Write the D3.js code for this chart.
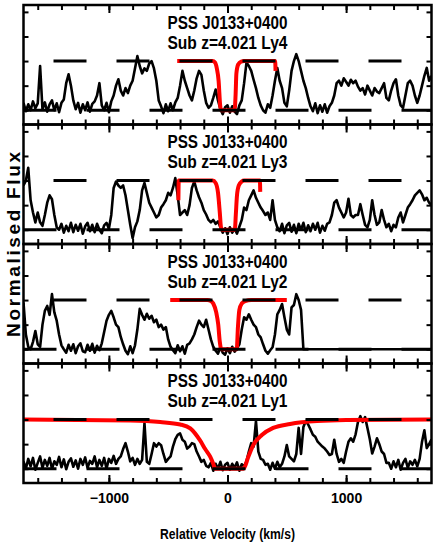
<!DOCTYPE html>
<html>
<head>
<meta charset="utf-8">
<script src="https://cdn.jsdelivr.net/npm/d3@7"></script>
<style>
body { margin: 0; background: #fff; }
text { font-family: "Liberation Sans", Arial, sans-serif; font-weight: bold; }
</style>
</head>
<body>
<svg width="436" height="545"></svg>
<script>
// panel labels, top to bottom
const panelLabels = ["Ly4", "Ly3", "Ly2", "Ly1"];
const objectName = "PSS J0133+0400";
const subLabel = "Sub z=4.021";
const xTickLabels = [-1000, 0, 1000];
const yTicks = [0, 0.5, 1, 1.5, 2];

// spectra sampled every 20 km/s from -1720 km/s
const velStart = -1720, velStep = 20;

const ly4Flux = [
  0.15, -0.02, 0.12, 0.0, 0.18, 0.04, 0.14, 0.9, 0.02, 0.16,
  -0.03, 0.12, 0.2, 0.0, 0.14, -0.04, 0.15, 0.22, 0.55, 0.73,
  0.5, 0.2, 0.02, 0.15, -0.05, 0.12, 0.0, 0.16, -0.03, 0.13,
  0.18, 0.3, 0.55, 0.1, 0.0, 0.15, -0.04, 0.18, 0.3, 0.5,
  0.63, 0.4, 0.3, 0.45, 0.35, 0.5, 0.6, 0.85, 1.1, 0.9,
  0.75, 0.85, 0.8, 0.95, 1.0, 0.85, 0.6, 0.2, 0.08, -0.06,
  0.12, -0.02, 0.14, 0.0, 0.16, 0.25, 0.5, 0.8, 0.6, 0.45,
  0.3, 0.2, 0.4, 0.65, 0.8, 0.72, 0.4, 0.15, 0.05, 0.1,
  0.25, 0.42, 0.2, 0.02, -0.08, 0.06, 0.1, -0.05, 0.08, -0.03,
  -0.08, 0.1, 0.2, 0.55, 0.97, 0.9, 0.8, 0.62, 0.45, 0.25,
  0.1, 0.0, -0.05, 0.12, 0.05, 0.3, 0.6, 0.86, 0.6, 0.45,
  0.15, 0.08, 0.4, 0.8, 1.0, 1.14, 1.0, 0.8, 0.6, 0.45,
  0.25, 0.08, -0.02, 0.14, -0.06, 0.1, -0.03, 0.12, -0.05, 0.08,
  0.15, 0.3, 0.55, 0.6, 0.5, 0.65, 0.58, 0.5, 0.62, 0.55,
  0.6, 0.48, 0.4, 0.45, 0.32, 0.5, 0.4, 0.3, 0.45, 0.38,
  0.35, 0.45, 0.55, 0.25, 0.2, 0.4, 0.55, 0.63, 0.3, 0.1,
  0.05, 0.3, 0.55, 0.6, 0.5, 0.3, 0.15, 0.3, 0.5, 0.7,
  0.86, 0.6, 0.7
];

const ly3Flux = [
  0.9, 1.0, 1.26, 0.6, 0.35, 0.15, 0.35, 0.15, 0.08, 0.3,
  0.55, 0.7, 0.62, 0.3, 0.05, 0.0, 0.12, -0.06, 0.08, -0.03,
  0.14, -0.05, 0.1, -0.02, 0.12, -0.08, 0.07, 0.14, -0.03, 0.1,
  -0.05, 0.12, 0.0, -0.07, 0.09, 0.14, 0.02, 0.3, 0.85, 0.98,
  0.9, 0.85, 0.9, 0.7, 0.4, 0.1, -0.17, 0.05, 0.17, 0.4,
  0.8, 0.95, 0.75, 0.55, 0.45, 0.35, 0.25, 0.3, 0.45, 0.52,
  0.6, 0.75, 0.7, 0.85, 1.05, 0.7, 0.3, 0.35, 0.4, 0.3,
  0.5, 0.85, 0.98, 0.8, 0.66, 0.55, 0.4, 0.31, 0.2, 0.15,
  0.2, 0.12, 0.17, 0.05, -0.06, 0.03, -0.09, 0.05, -0.06, 0.02,
  -0.08, 0.06, 0.2, 0.45, 0.4, 0.6, 0.7, 0.8, 0.65, 0.55,
  0.45, 0.38, 0.3, 0.35, 0.2, 0.6, 0.2, 0.05, -0.03, 0.12,
  -0.07, 0.09, 0.14, -0.04, 0.1, -0.07, 0.12, 0.0, 0.14, -0.05,
  0.09, -0.03, 0.12, 0.0, 0.14, -0.06, 0.08, -0.02, 0.12, 0.15,
  0.3, 0.55, 0.6, 0.45, 0.35, 0.25, 0.35, 0.63, 0.3, 0.25,
  0.3, 0.3, 0.52, 0.3, 0.1, 0.05, 0.2, 0.6, 0.3, 0.1,
  0.15, 0.4, 0.2, 0.05, 0.12, -0.03, 0.1, 0.05, 0.25, 0.35,
  0.15, 0.3, 0.45, 0.52, 0.6, 0.7, 0.75, 0.8, 0.72, 0.6,
  0.65, 0.55, 0.5
];

const ly2Flux = [
  0.95, 0.3, 0.05, 0.0, 0.15, 0.37, 0.1, 0.05, 0.5, 0.78,
  0.88, 0.7, 1.12, 0.75, 0.58, 0.3, 0.08, 0.0, -0.07, 0.09,
  -0.03, 0.1, -0.08, 0.06, 0.12, -0.04, -0.06, 0.09, -0.03, 0.11,
  -0.07, 0.07, -0.02, 0.12, 0.35, 0.58, 0.7, 0.78, 0.65, 0.5,
  0.45, 0.25, 0.1, -0.03, -0.1, 0.06, -0.08, 0.08, 0.4, 0.82,
  0.7, 0.6, 0.72, 0.62, 0.68, 0.55, 0.6, 0.45, 0.5, 0.4,
  0.45, 0.2, 0.05, -0.02, -0.08, 0.08, -0.04, 0.06, -0.09, 0.09,
  0.12, 0.2, 0.3, 0.45, 0.58, 0.5, 0.45, 0.6, 0.4, 0.2,
  0.05, -0.03, -0.09, 0.04, -0.07, -0.11, 0.02, -0.08, 0.05, -0.05,
  0.02, 0.1, 0.4, 0.65, 0.6, 0.71, 0.6, 0.5, 0.45, 0.3,
  0.24, 0.1, -0.03, -0.09, -0.02, 0.04, 0.3, 0.71, 0.8, 0.92,
  0.65, 0.4, 0.3, 0.85, 0.9, 1.12, 1.0, 0.8, 0.0, 0,
  0, 0, 0, 0, 0, 0, 0, 0, 0, 0,
  0, 0, 0, 0, 0, 0, 0, 0, 0, 0,
  0, 0, 0, 0, 0, 0, 0, 0, 0, 0,
  0, 0, 0, 0, 0, 0, 0, 0, 0, 0,
  0, 0, 0, 0, 0, 0, 0, 0, 0, 0,
  0, 0, 0
];

const ly1Flux = [
  0.15, 0.0, 0.2, 0.05, 0.22, -0.02, 0.12, 0.25, 0.02, 0.18,
  0.06, 0.22, 0.0, 0.15, 0.08, 0.24, 0.03, 0.19, -0.01, 0.14,
  0.21, 0.04, 0.17, 0.0, 0.2, 0.08, 0.23, 0.02, 0.16, 0.1,
  0.25, 0.03, 0.18, 0.06, 0.22, 0.0, 0.2, 0.12, 0.26, 0.1,
  0.2, 0.25, 0.4, 0.52, 0.35, 0.15, 0.22, 0.08, 0.2, 0.1,
  0.18, 0.93, 0.14, 0.1, 0.3, 0.52, 0.45, 0.52, 0.48, 0.3,
  0.14, 0.2, 0.25, 0.45, 0.6, 0.69, 0.72, 0.59, 0.55, 0.41,
  0.45, 0.52, 0.5, 0.35, 0.25, 0.14, 0.18, 0.06, 0.03, 0.12,
  -0.04, 0.1, 0.0, 0.14, -0.03, 0.08, 0.12, -0.02, 0.1, 0.02,
  0.13, -0.04, 0.09, 0.05, 0.15, 0.35, 0.52, 0.45, 0.97, 0.35,
  0.2, 0.18, 0.08, 0.1, -0.02, 0.12, 0.0, 0.14, 0.03, 0.1,
  0.25, 0.48, 0.25, 0.2, 0.15, 0.3, 0.83, 0.3, 0.85, 0.97,
  0.9, 0.8, 0.69, 0.65, 0.55, 0.5, 0.45, 0.41, 0.35, 0.28,
  0.3, 0.59, 0.3, 0.14, 0.2, 0.12, 0.35, 0.55, 0.62, 0.55,
  0.7, 0.95, 1.07, 0.95, 1.05, 0.83, 0.6, 0.31, 0.45, 0.62,
  0.5, 0.35, 0.3, 0.12, 0.12, 0.0, 0.15, 0.03, 0.18, -0.02,
  0.12, 0.2, 0.02, 0.15, 0.08, 0.18, 0.05, 0.2, 0.55, 0.78,
  0.42, 0.5, 0.6
];

// fitted profiles: [velocity, flux]
const ly4Model = [[-424, 1], [-125, 1], [-105, 0.97], [-90, 0.85], [-75, 0.6], [-62, 0.1], [-55, 0],
  [60, 0], [68, 0.3], [75, 0.75], [90, 0.93], [115, 0.99], [140, 1], [402, 1], [405, 0.8]];
const ly3Model = [[-414, 0.6], [-411, 1], [-125, 1], [-100, 0.95], [-80, 0.75], [-65, 0.35], [-55, 0.05], [-48, 0],
  [62, 0], [70, 0.3], [80, 0.7], [95, 0.9], [120, 0.98], [140, 1], [273, 1], [276, 0.77]];
const ly2Model = [[-483, 1], [-170, 1], [-140, 0.98], [-120, 0.93], [-95, 0.75], [-78, 0.5], [-65, 0.15], [-52, 0],
  [78, 0], [88, 0.45], [100, 0.8], [120, 0.93], [150, 0.98], [200, 1], [500, 1]];
const ly1Model = [[-1720, 1], [-820, 0.98], [-567, 0.95], [-398, 0.9], [-314, 0.82], [-230, 0.57], [-188, 0.4],
  [-145, 0.24], [-120, 0.1], [-104, 0], [135, 0], [175, 0.24], [217, 0.48], [292, 0.69], [385, 0.83],
  [528, 0.91], [755, 0.97], [1000, 0.99], [1720, 1]];

const fluxes = [ly4Flux, ly3Flux, ly2Flux, ly1Flux];
const models = [ly4Model, ly3Model, ly2Model, ly1Model];

const svg = d3.select("svg");
const plotLeft = 23.5, plotRight = 431.5, plotTop = 5, panelH = 119.5;

const x = d3.scaleLinear().domain([-1720, 1720]).range([plotLeft, plotRight]);
const y = d3.scaleLinear().domain([-0.29, 2.14]).range([panelH, 0]);
const minorTicks = d3.range(-1600, 1601, 200);

const specLine = d3.line()
  .x((d, i) => x(velStart + i * velStep))
  .y(d => y(d));
const modelLine = d3.line()
  .x(d => x(d[0]))
  .y(d => y(d[1]))
  .curve(d3.curveMonotoneX);

svg.append("defs").append("clipPath").attr("id", "clip")
  .append("rect").attr("x", plotLeft).attr("y", 0).attr("width", plotRight - plotLeft).attr("height", panelH);

fluxes.forEach((flux, k) => {
  const g = svg.append("g").attr("transform", `translate(0,${plotTop + k * panelH})`);
  const plot = g.append("g").attr("clip-path", "url(#clip)");

  plot.append("path")
    .attr("d", specLine(flux))
    .attr("fill", "none").attr("stroke", "#000")
    .attr("stroke-width", 2.6).attr("stroke-linejoin", "round");

  plot.append("path")
    .attr("d", modelLine(models[k]))
    .attr("fill", "none").attr("stroke", "#ff0000")
    .attr("stroke-width", 4);

  // continuum and zero level
  plot.append("line")
    .attr("x1", plotLeft).attr("x2", plotRight).attr("y1", y(1)).attr("y2", y(1))
    .attr("stroke", "#000").attr("stroke-width", 3)
    .attr("stroke-dasharray", "33,30").attr("stroke-dashoffset", 33);
  plot.append("line")
    .attr("x1", plotLeft).attr("x2", plotRight).attr("y1", y(0)).attr("y2", y(0))
    .attr("stroke", "#000").attr("stroke-width", 3)
    .attr("stroke-dasharray", "33,30");

  // ticks pointing inward
  const noDomain = a => a.select(".domain").remove();
  g.append("g").call(d3.axisTop(x).tickValues(minorTicks).tickSize(-5).tickFormat("")).call(noDomain);
  g.append("g").call(d3.axisTop(x).tickValues(xTickLabels).tickSize(-8).tickFormat("")).call(noDomain);
  g.append("g").attr("transform", `translate(0,${panelH})`)
    .call(d3.axisBottom(x).tickValues(minorTicks).tickSize(-5).tickFormat("")).call(noDomain);
  const bottom = g.append("g").attr("transform", `translate(0,${panelH})`)
    .call(d3.axisBottom(x).tickValues(xTickLabels).tickSize(-8).tickPadding(10.5)
      .tickFormat(k === 3 ? d3.format("d") : ""))
    .call(noDomain);
  bottom.selectAll("text").attr("font-size", 14).attr("fill", "#000");
  g.append("g").attr("transform", `translate(${plotLeft},0)`)
    .call(d3.axisLeft(y).tickValues(yTicks).tickSize(-5).tickFormat("")).call(noDomain);
  g.append("g").attr("transform", `translate(${plotRight},0)`)
    .call(d3.axisRight(y).tickValues(yTicks).tickSize(-5).tickFormat("")).call(noDomain);
  g.selectAll(".tick line").attr("stroke-width", 2);

  g.append("rect")
    .attr("x", plotLeft).attr("y", 0).attr("width", plotRight - plotLeft).attr("height", panelH)
    .attr("fill", "none").attr("stroke", "#000").attr("stroke-width", 2.5);

  g.append("text")
    .attr("x", 227.5).attr("y", 23.5)
    .attr("text-anchor", "middle").attr("font-size", 18)
    .attr("textLength", 120).attr("lengthAdjust", "spacingAndGlyphs")
    .text(objectName);
  g.append("text")
    .attr("x", 227.5).attr("y", 43.5)
    .attr("text-anchor", "middle").attr("font-size", 18)
    .attr("textLength", 120).attr("lengthAdjust", "spacingAndGlyphs")
    .text(`${subLabel} ${panelLabels[k]}`);
});

svg.append("text")
  .attr("x", 227.5).attr("y", 538.5)
  .attr("text-anchor", "middle").attr("font-size", 15)
  .attr("textLength", 135).attr("lengthAdjust", "spacingAndGlyphs")
  .text("Relative Velocity (km/s)");

svg.append("text")
  .attr("transform", "translate(19.5,244.5) rotate(-90)")
  .attr("text-anchor", "middle").attr("font-size", 19)
  .attr("textLength", 185).attr("lengthAdjust", "spacing")
  .text("Normalised  Flux");
</script>
</body>
</html>
